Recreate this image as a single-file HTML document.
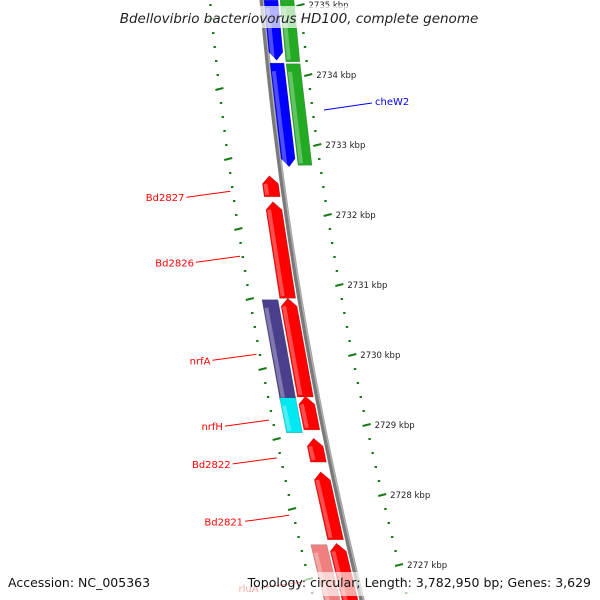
<!DOCTYPE html>
<html><head><meta charset="utf-8"><style>
body{margin:0;background:#fff}
svg{display:block;font-family:"DejaVu Sans","Liberation Sans",sans-serif}
</style></head><body>
<svg id="map" width="600" height="600" viewBox="0 0 600 600" xmlns="http://www.w3.org/2000/svg">
<g id="ticks"></g>
<path id="backbone" fill="none" stroke="#7a7a7a" stroke-width="5"/>
<path id="backbone2" fill="none" stroke="#b0b0b0" stroke-width="1.5"/>
<g id="genes"></g>
<g id="labels"></g>
<rect x="115" y="6" width="370" height="22" fill="#fff" opacity="0.7"/>
<text x="299" y="23" text-anchor="middle" font-style="italic" font-size="13.5" fill="#222">Bdellovibrio bacteriovorus HD100, complete genome</text>
<rect x="0" y="572" width="600" height="24" fill="#fff" opacity="0.65"/>
<text x="8" y="587" font-size="12.5" fill="#111">Accession: NC_005363</text>
<text x="591" y="587" text-anchor="end" font-size="12.5" fill="#111">Topology: circular; Length: 3,782,950 bp; Genes: 3,629</text>
</svg>
<script>
// data
const tickKbp=[2735,2734,2733,2732,2731,2730,2729,2728,2727];
const geneNames=["g1","cheW2","green1","green2","Bd2827","Bd2826","nrfA","rfB","nrfH","rfC","Bd2822","Bd2821","pink","rluA"];
const geneStart=[2735.07,2734.17,2735.07,2734.16,2732.56,2732.19,2730.79,2730.81,2729.39,2729.41,2728.81,2728.33,2727.29,2727.31];
const geneEnd=[2734.21,2732.69,2734.19,2732.71,2732.26,2730.81,2729.36,2729.40,2728.89,2728.93,2728.47,2727.36,2726.4,2726.4];
const geneTrack=["o1","o1","o2","o2","i1","i1","i2","i1","i2","i1","i1","i1","i2","i1"];
const geneColor=["#0000ff","#0000ff","#22aa22","#22aa22","#ff0000","#ff0000","#4a3f8c","#ff0000","#00e8f0","#ff0000","#ff0000","#ff0000","#f08080","#ff0000"];
const geneArrow=["down","down","none","none","up","up","none","up","none","up","up","up","none","up"];
const labelText=["Bd2827","Bd2826","nrfA","nrfH","Bd2822","Bd2821","rluA"];
const labelKbp=[2732.34,2731.41,2730.01,2729.07,2728.53,2727.71,2726.76];

const NS="http://www.w3.org/2000/svg";
const yOf=k=>5+(2735-k)*70;
const bx=y=>262+0.0867*y+0.0001333*y*y;
const tracks={o1:[2,16],o2:[18,32],i1:[-20,-4],i2:[-38,-22]};
function mk(tag,attrs,parent){const e=document.createElementNS(NS,tag);for(const k in attrs)e.setAttribute(k,attrs[k]);parent.appendChild(e);return e;}
let d="";for(let y=-10;y<=610;y+=10)d+=(y<0?"M":"L")+bx(y).toFixed(1)+","+y+" ";
document.getElementById('backbone').setAttribute('d',d);
let d2="";for(let y=-10;y<=610;y+=10)d2+=(y<0?"M":"L")+(bx(y)+1.5).toFixed(1)+","+y+" ";
document.getElementById('backbone2').setAttribute('d',d2);
const tg=document.getElementById('ticks');
for(let k=2735.4;k>=2726.4;k-=0.2){
  const kk=Math.round(k*10)/10;const major=Math.abs(kk-Math.round(kk))<0.01;
  const y=yOf(kk);const x=bx(y)+38+(y/600)*8;
  const t=mk('line',{x1:x-(major?4:1.2),y1:y+(major?1:0),x2:x+(major?4:1.2),y2:y-(major?1:0),stroke:"#1a7a1a","stroke-width":2},tg);
  
  const y2=yOf(kk)+14;const x2=bx(y2)-52+(y2/600)*4;
  const t2=mk('line',{x1:x2-(major?4:1.2),y1:y2+(major?1:0),x2:x2+(major?4:1.2),y2:y2-(major?1:0),stroke:"#1a7a1a","stroke-width":2},tg);
  
}
tickKbp.forEach(k=>{const y=yOf(k);const x=bx(y)+46+(y/600)*8;
  const t=mk('text',{x:x,y:y+3,"font-size":8.5,fill:"#222"},tg);t.textContent=k+" kbp";
  });
const gg=document.getElementById('genes');
geneNames.forEach((n,i)=>{
  const y1=yOf(geneStart[i]),y2=yOf(geneEnd[i]);const [a,b]=tracks[geneTrack[i]];
  const m=(a+b)/2;const ah=8;let pts;
  const P=(o,y)=>(bx(y)+o).toFixed(1)+","+y.toFixed(1);
  if(geneArrow[i]==="up")pts=[P(a,y2),P(a,y1+ah),P(m,y1),P(b,y1+ah),P(b,y2)];
  else if(geneArrow[i]==="down")pts=[P(a,y1),P(b,y1),P(b,y2-ah),P(m,y2),P(a,y2-ah)];
  else pts=[P(a,y1),P(b,y1),P(b,y2),P(a,y2)];
  const g=mk('polygon',{points:pts.join(" "),fill:geneColor[i],stroke:"rgba(0,0,0,0.25)","stroke-width":0.6},gg);
  
  const s=mk('line',{x1:bx(y1+ah)+a+3,y1:y1+ah,x2:bx(y2)+a+3,y2:y2-2,stroke:"rgba(255,255,255,0.3)","stroke-width":4},gg);
  
});
const lg=document.getElementById('labels');
labelText.forEach((t,i)=>{const y=yOf(labelKbp[i]);const xe=bx(y)-50;
  const l=mk('line',{x1:xe-47,y1:y+6,x2:xe-3,y2:y,stroke:"#ff0000","stroke-width":1},lg);
  
  const tx=mk('text',{x:xe-49,y:y+10,"text-anchor":"end","font-size":10,fill:"#ff0000"},lg);tx.textContent=t;
  });
const cl=mk('line',{x1:324,y1:110,x2:372,y2:103,stroke:"#0000ff","stroke-width":1},lg);

const ct=mk('text',{x:375,y:105,"font-size":10,fill:"#0000ff"},lg);ct.textContent="cheW2";

</script>
</body></html>
